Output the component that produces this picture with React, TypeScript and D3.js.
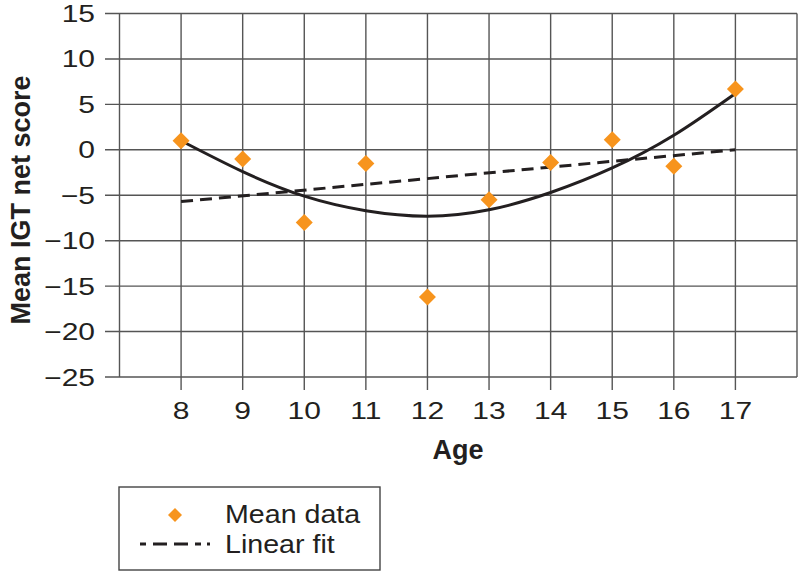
import React from "react";
import * as d3 from "d3";

const ages = [8, 9, 10, 11, 12, 13, 14, 15, 16, 17];
const meanScores = [1.0, -1.0, -8.0, -1.5, -16.2, -5.5, -1.4, 1.1, -1.8, 6.7];
const curveFit = [1.0, -2.4, -5.1, -6.7, -7.3, -6.6, -4.7, -2.0, 1.6, 6.2];
const linearFitAges = [8, 17];
const linearFitValues = [-5.7, 0.0];
const yTicks = [15, 10, 5, 0, -5, -10, -15, -20, -25];
const legendLabels = ["Mean data", "Linear fit"];

const W = 800;
const H = 577;
const FONT = "'Liberation Sans', Arial, Helvetica, sans-serif";
const ORANGE = "#F7941D";
const GRID = "#555";
const INK = "#231F20";

function SText(props: {
  x: number;
  y: number;
  sx?: number;
  anchor?: string;
  size: number;
  weight?: string;
  rotate?: number;
  children: React.ReactNode;
}) {
  const { x, y, sx = 1, anchor = "start", size, weight = "normal", rotate = 0, children } = props;
  return (
    <text
      transform={`translate(${x},${y}) rotate(${rotate}) scale(${sx},1)`}
      textAnchor={anchor}
      fontSize={size}
      fontWeight={weight}
      fontFamily={FONT}
      fill={INK}
    >
      {children}
    </text>
  );
}

function diamond(cx: number, cy: number, r: number) {
  return `M${cx},${cy - r}L${cx + r},${cy}L${cx},${cy + r}L${cx - r},${cy}Z`;
}

export default function App() {
  const x = d3.scaleLinear().domain([7, 18]).range([119.5, 797]);
  const y = d3.scaleLinear().domain([-25, 15]).range([377, 13.5]);

  const curveLine = d3
    .line<number>()
    .x((_, i) => x(ages[i]))
    .y((d) => y(d))
    .curve(d3.curveNatural);

  const linLine = d3
    .line<number>()
    .x((_, i) => x(linearFitAges[i]))
    .y((d) => y(d));

  const left = x(7);
  const right = x(18);
  const top = y(15);
  const bottom = y(-25);

  return (
    <svg width={W} height={H} style={{ position: "absolute", left: 0, top: 0, background: "#fff" }}>
      <rect x={0} y={0} width={W} height={H} fill="#fff" />
      {/* horizontal grid + y ticks */}
      {yTicks.map((t) => (
        <line key={"h" + t} x1={105} x2={right} y1={y(t)} y2={y(t)} stroke={GRID} strokeWidth={1.4} />
      ))}
      {/* vertical grid + x ticks */}
      {ages.map((a) => (
        <line key={"v" + a} x1={x(a)} x2={x(a)} y1={top} y2={bottom + 13} stroke={GRID} strokeWidth={1.4} />
      ))}
      <line x1={left} x2={left} y1={top} y2={bottom} stroke={GRID} strokeWidth={1.4} />
      <line x1={right} x2={right} y1={top} y2={bottom} stroke={GRID} strokeWidth={1.4} />

      {/* y tick labels */}
      {yTicks.map((t) => (
        <SText key={"yl" + t} x={95} y={y(t) + 8.5} sx={1.25} anchor="end" size={24}>
          {t < 0 ? "\u2212" + Math.abs(t) : String(t)}
        </SText>
      ))}
      {/* x tick labels */}
      {ages.map((a) => (
        <SText key={"xl" + a} x={x(a)} y={419} sx={1.25} anchor="middle" size={24}>
          {String(a)}
        </SText>
      ))}

      {/* axis titles */}
      <SText x={458} y={459} anchor="middle" size={27} weight="bold">
        Age
      </SText>
      <SText x={30} y={200} anchor="middle" size={27} weight="bold" rotate={-90}>
        Mean IGT net score
      </SText>

      {/* linear fit */}
      <path d={linLine(linearFitValues) || ""} fill="none" stroke={INK} strokeWidth={3} strokeDasharray="12,7" />
      {/* curve fit */}
      <path d={curveLine(curveFit) || ""} fill="none" stroke={INK} strokeWidth={3} />

      {/* data points */}
      {meanScores.map((v, i) => (
        <path key={"p" + i} d={diamond(x(ages[i]), y(v), 8.5)} fill={ORANGE} />
      ))}

      {/* legend */}
      <rect x={119} y={487} width={261} height={83} fill="#fff" stroke="#444" strokeWidth={1.4} />
      <path d={diamond(175, 515, 7)} fill={ORANGE} />
      <line x1={140} x2={210} y1={544} y2={544} stroke={INK} strokeWidth={3} strokeDasharray="6,7,14,7,14,7,6" />
      <SText x={225} y={523} sx={1.1} size={26}>
        {legendLabels[0]}
      </SText>
      <SText x={225} y={553} sx={1.1} size={26}>
        {legendLabels[1]}
      </SText>
    </svg>
  );
}
